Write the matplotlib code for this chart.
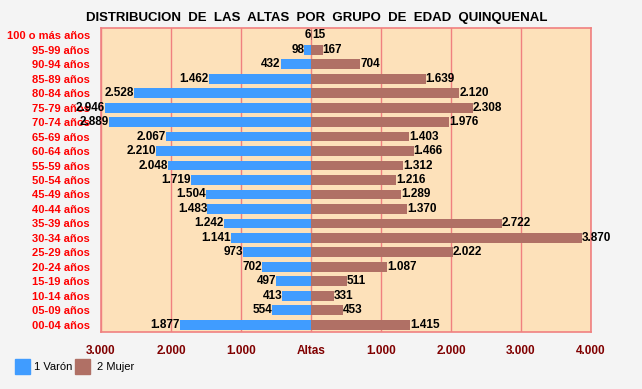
import matplotlib

matplotlib.use("Agg")

import matplotlib.pyplot as plt
from matplotlib.patches import Rectangle

plt.rcParams["font.family"] = ["Liberation Sans", "DejaVu Sans"]

# top to bottom, as in the reference
categories = [
    "100 o más años", "95-99 años", "90-94 años", "85-89 años", "80-84 años",
    "75-79 años", "70-74 años", "65-69 años", "60-64 años", "55-59 años",
    "50-54 años", "45-49 años", "40-44 años", "35-39 años", "30-34 años",
    "25-29 años", "20-24 años", "15-19 años", "10-14 años", "05-09 años",
    "00-04 años",
]
varon = [6, 98, 432, 1462, 2528, 2946, 2889, 2067, 2210, 2048, 1719,
         1504, 1483, 1242, 1141, 973, 702, 497, 413, 554, 1877]
mujer = [15, 167, 704, 1639, 2120, 2308, 1976, 1403, 1466, 1312, 1216,
         1289, 1370, 2722, 3870, 2022, 1087, 511, 331, 453, 1415]
tick_values = [-3000, -2000, -1000, 0, 1000, 2000, 3000, 4000]
tick_labels = ["3.000", "2.000", "1.000", "Altas", "1.000", "2.000", "3.000", "4.000"]

BLUE = "#409cff"
BROWN = "#b07065"
GRID = "#f08080"


def fmt(v):
    return f"{v:,}".replace(",", ".")


fig = plt.figure(figsize=(6.42, 3.89), dpi=100, facecolor="#f4f4f4")
ax = fig.add_axes([101 / 642, 57 / 389, 490 / 642, 304 / 389])
ax.set_facecolor("#fde1ba")

n = len(categories)
ys = [n - 1 - i for i in range(n)]
ax.barh(ys, [-v for v in varon], height=0.68, color=BLUE, zorder=3)
ax.barh(ys, mujer, height=0.68, color=BROWN, zorder=3)

for y, v, m in zip(ys, varon, mujer):
    ax.text(-v, y, fmt(v), ha="right", va="center", fontsize=8.5,
            fontweight="bold", color="black", zorder=4)
    ax.text(m, y, fmt(m), ha="left", va="center", fontsize=8.5,
            fontweight="bold", color="black", zorder=4)

ax.set_xlim(-3000, 4000)
ax.set_ylim(-0.5, n - 0.5)
ax.set_yticks(ys)
ax.set_yticklabels(categories, color="#ff0000", fontweight="bold", fontsize=8)
ax.set_xticks(tick_values)
ax.set_xticklabels(tick_labels, color="#800000", fontweight="bold", fontsize=8.5)
ax.tick_params(length=0, axis="y", pad=8)
ax.tick_params(length=0, axis="x", pad=9)
ax.grid(axis="x", color=GRID, linewidth=1, zorder=1)
for s in ax.spines.values():
    s.set_color(GRID)
    s.set_linewidth(1.2)

fig.text(317 / 642, 1 - 18 / 389,
         "DISTRIBUCION  DE  LAS  ALTAS  POR  GRUPO  DE  EDAD  QUINQUENAL",
         ha="center", va="center", fontsize=9.5, fontweight="bold")

# legend
fig.patches.append(Rectangle((15 / 642, 1 - 374 / 389), 15 / 642, 15 / 389,
                             transform=fig.transFigure, color=BLUE))
fig.text(34 / 642, 1 - 367 / 389, "1 Varón", va="center", fontsize=8)
fig.patches.append(Rectangle((75 / 642, 1 - 374 / 389), 15 / 642, 15 / 389,
                             transform=fig.transFigure, color=BROWN))
fig.text(97 / 642, 1 - 367 / 389, "2 Mujer", va="center", fontsize=8)

fig.savefig("out.png", dpi=100, facecolor=fig.get_facecolor())
